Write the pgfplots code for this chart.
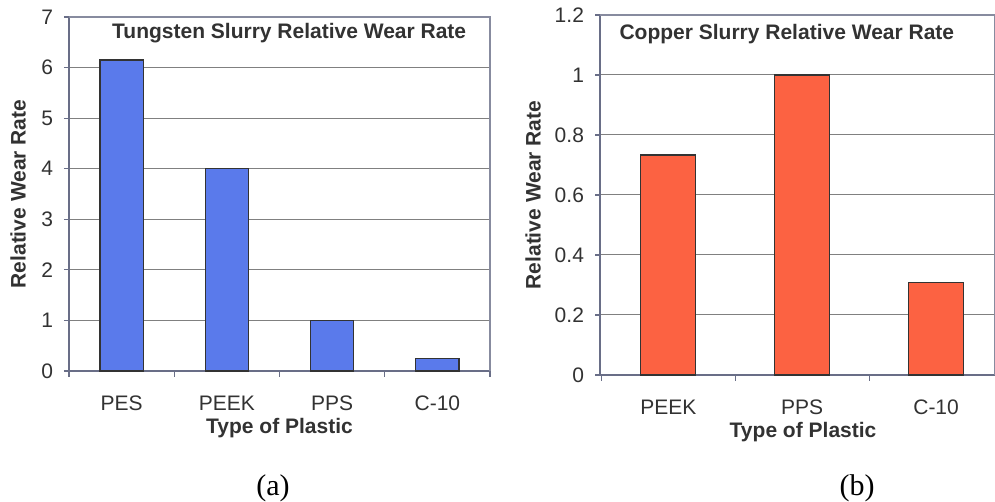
\documentclass[border=0pt]{standalone}
\usepackage{fontspec}
\setmainfont{Liberation Sans}
\newfontfamily\timesfont{Liberation Serif}
\usepackage{pgfplots}
\pgfplotsset{compat=1.18}
\definecolor{barblue}{RGB}{90,122,235}
\definecolor{barred}{RGB}{252,98,66}
\definecolor{txt}{RGB}{50,50,50}
\definecolor{axcol}{RGB}{105,110,135}
\pgfplotsset{
  mystyle/.style={
    scale only axis,
    ybar, bar width=0.41,
    axis x line*=bottom, axis y line*=left,
    axis line style={axcol, line width=0.8pt, -},
    ymajorgrids, grid style={black!50, line width=0.5pt},
    tick align=outside,
    ytick style={axcol, line width=0.6pt},
    major tick length=2.5pt,
    major x tick style={draw=none},
    minor x tick style={axcol, line width=0.6pt},
    minor tick length=3pt,
    ticklabel style={font=\fontsize{10.5}{12}\selectfont, text=txt},
    xticklabel style={yshift=-6.5pt},
    yticklabel style={xshift=-2pt},
    /pgf/number format/assume math mode=true,
    label style={font=\bfseries\fontsize{10.5}{12}\selectfont, text=txt},
    enlarge x limits=false, clip=false,
    ymin=0,
  }
}
\begin{document}
\begin{tikzpicture}
\path[use as bounding box] (0pt,0pt) rectangle (497.5pt,251pt);
% (a) Tungsten
\begin{axis}[mystyle,
  at={(34.5pt,65.5pt)}, anchor=south west,
  width=210.5pt, height=177pt,
  xmin=-0.5, xmax=3.5, ymax=7,
  ytick={0,1,2,3,4,5,6,7},
  xtick={0,1,2,3}, xticklabels={PES,PEEK,PPS,C-10},
  minor xtick={-0.5,0.5,1.5,2.5,3.5},
  xlabel={Type of Plastic},
  xlabel style={at={(axis description cs:0.5,0)}, anchor=center, yshift=-28.5pt},
  ylabel={Relative Wear Rate},
  ylabel style={at={(axis description cs:0,0.5)}, anchor=center, yshift=25.5pt},
]
\addplot[fill=barblue, draw=black!80, line width=0.6pt] coordinates {(0,6.15) (1,4.0) (2,1.0) (3,0.24)};
\draw[axcol!80, line width=0.6pt] (rel axis cs:0,1) -- (rel axis cs:1,1) -- (rel axis cs:1,0);
\node[font=\bfseries\fontsize{10.5}{12}\selectfont, text=txt] at (rel axis cs:0.523,0.955) {Tungsten Slurry Relative Wear Rate};
\end{axis}
% (b) Copper
\begin{axis}[mystyle,
  at={(300pt,63.5pt)}, anchor=south west,
  width=197.5pt, height=180pt,
  xmin=-0.51, xmax=2.44, ymax=1.2,
  ytick={0,0.2,0.4,0.6,0.8,1,1.2},
  xtick={0,1,2}, xticklabels={PEEK,PPS,C-10},
  minor xtick={-0.5,0.5,1.5,2.5},
  xlabel={Type of Plastic},
  xlabel style={at={(axis description cs:0.514,0)}, anchor=center, yshift=-28.5pt},
  ylabel={Relative Wear Rate},
  ylabel style={at={(axis description cs:0,0.5)}, anchor=center, yshift=33.5pt},
]
\addplot[fill=barred, draw=black!80, line width=0.6pt] coordinates {(0,0.733) (1,1.0) (2,0.307)};
\draw[axcol!80, line width=0.6pt] (rel axis cs:0,1) -- (rel axis cs:1,1) -- (rel axis cs:1,0);
\node[font=\bfseries\fontsize{10.5}{12}\selectfont, text=txt] at (rel axis cs:0.473,0.947) {Copper Slurry Relative Wear Rate};
\end{axis}
\node[font=\timesfont\fontsize{15}{17}\selectfont] at (136.5pt,7pt) {(a)};
\node[font=\timesfont\fontsize{15}{17}\selectfont] at (428.5pt,7pt) {(b)};
\end{tikzpicture}
\end{document}
